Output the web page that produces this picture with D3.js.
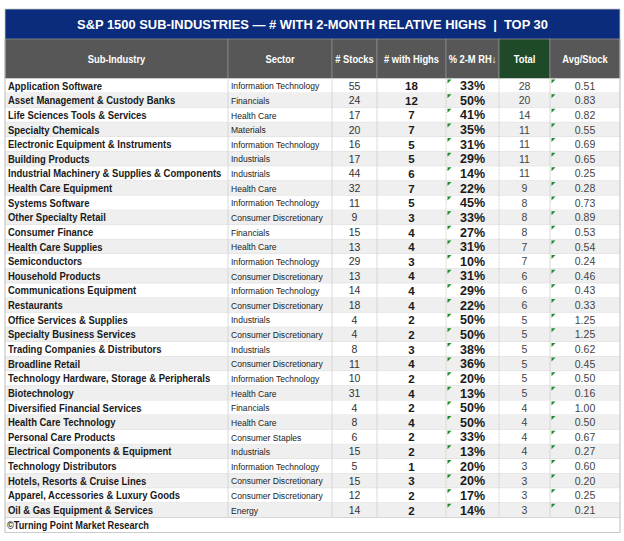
<!DOCTYPE html>
<html><head><meta charset="utf-8">
<script src="https://cdn.jsdelivr.net/npm/d3@7"></script>
<style>body{margin:0;background:#fff}svg{display:block}</style>
</head><body>
<svg id="c" width="624" height="541"></svg>
<script>
const title = "S&P 1500 SUB-INDUSTRIES — # WITH 2-MONTH RELATIVE HIGHS  |  TOP 30";
const headers = ["Sub-Industry","Sector","# Stocks","# with Highs","% 2-M RH↓","Total","Avg/Stock"];
const subIndustries = ["Application Software","Asset Management & Custody Banks","Life Sciences Tools & Services","Specialty Chemicals","Electronic Equipment & Instruments","Building Products","Industrial Machinery & Supplies & Components","Health Care Equipment","Systems Software","Other Specialty Retail","Consumer Finance","Health Care Supplies","Semiconductors","Household Products","Communications Equipment","Restaurants","Office Services & Supplies","Specialty Business Services","Trading Companies & Distributors","Broadline Retail","Technology Hardware, Storage & Peripherals","Biotechnology","Diversified Financial Services","Health Care Technology","Personal Care Products","Electrical Components & Equipment","Technology Distributors","Hotels, Resorts & Cruise Lines","Apparel, Accessories & Luxury Goods","Oil & Gas Equipment & Services"];
const sectors = ["Information Technology","Financials","Health Care","Materials","Information Technology","Industrials","Industrials","Health Care","Information Technology","Consumer Discretionary","Financials","Health Care","Information Technology","Consumer Discretionary","Information Technology","Consumer Discretionary","Industrials","Consumer Discretionary","Industrials","Consumer Discretionary","Information Technology","Health Care","Financials","Health Care","Consumer Staples","Industrials","Information Technology","Consumer Discretionary","Consumer Discretionary","Energy"];
const stocks = [55,24,17,20,16,17,44,32,11,9,15,13,29,13,14,18,4,4,8,11,10,31,4,8,6,15,5,15,12,14];
const withHighs = [18,12,7,7,5,5,6,7,5,3,4,4,3,4,4,4,2,2,3,4,2,4,2,4,2,2,1,3,2,2];
const pctRH = [33,50,41,35,31,29,14,22,45,33,27,31,10,31,29,22,50,50,38,36,20,13,50,50,33,13,20,20,17,14];
const totals = [28,20,14,11,11,11,11,9,8,8,8,7,7,6,6,6,5,5,5,5,5,5,4,4,4,4,3,3,3,3];
const avgPerStock = [0.51,0.83,0.82,0.55,0.69,0.65,0.25,0.28,0.73,0.89,0.53,0.54,0.24,0.46,0.43,0.33,1.25,1.25,0.62,0.45,0.50,0.16,1.00,0.50,0.67,0.27,0.60,0.20,0.25,0.21];
const footer = "©Turning Point Market Research";

const rows = subIndustries.map((s,i)=>({i, sub:s, sector:sectors[i], stocks:stocks[i], highs:withHighs[i], pct:pctRH[i], total:totals[i], avg:avgPerStock[i]}));

const svg = d3.select("#c");
const L = 5, R = 620;
const colEdges = [L,228,332,377,446,499,550,R];
const xCol = i => colEdges[i];
const wCol = i => colEdges[i+1]-colEdges[i];
const y = d3.scaleBand().domain(d3.range(rows.length)).range([78.5, 517.5]).paddingInner(0);
const font = "'Liberation Sans', Arial, sans-serif";

// title bar
svg.append("rect").attr("x",L).attr("y",9).attr("width",R-L).attr("height",30).attr("fill","#0b2b7d");
svg.append("text").attr("transform",`translate(${(L+R)/2},29) scale(0.95,1)`).attr("text-anchor","middle")
  .attr("font-family",font).attr("font-weight","bold").attr("font-size",13.6).attr("fill","#fff")
  .attr("xml:space","preserve").text(title);

// header
const hy=39, hh=39.5;
headers.forEach((h,i)=>{
  svg.append("rect").attr("x",xCol(i)).attr("y",hy).attr("width",wCol(i)).attr("height",hh)
    .attr("fill", i===5 ? "#1e4a29" : "#575757").attr("stroke","#8a8a8a").attr("stroke-width",0.8);
  svg.append("text").attr("transform",`translate(${xCol(i)+wCol(i)/2},${hy+hh/2+4}) scale(0.9,1)`).attr("text-anchor","middle")
    .attr("font-family",font).attr("font-weight","bold").attr("font-size",10.4).attr("fill","#fff").text(h);
});

// rows
const g = svg.append("g");
const rg = g.selectAll("g.r").data(rows).join("g").attr("class","r");
rg.append("rect").attr("x",L).attr("y",d=>y(d.i)).attr("width",R-L).attr("height",y.bandwidth())
  .attr("fill",d=>d.i%2===0?"#ffffff":"#efefef");
rg.append("line").attr("x1",L).attr("x2",R).attr("y1",d=>y(d.i)+y.bandwidth()).attr("y2",d=>y(d.i)+y.bandwidth())
  .attr("stroke","#d4d4d4").attr("stroke-width",0.8);
colEdges.forEach((cx,k)=>{
  g.append("line").attr("x1",cx).attr("x2",cx).attr("y1",y(0)).attr("y2",y(rows.length-1)+y.bandwidth())
    .attr("stroke", (k===4||k===5)?"#b8d8b0":"#d0d0d0").attr("stroke-width",0.8)
    .attr("stroke-dasharray",(k===4||k===5)?"2,1":null);
});
const cy = d => y(d.i)+y.bandwidth()/2+3.8;
rg.append("text").attr("transform",d=>`translate(8,${cy(d)}) scale(0.91,1)`).attr("font-family",font).attr("font-weight","bold")
  .attr("font-size",10.4).attr("fill","#1a1a1a").text(d=>d.sub);
rg.append("text").attr("transform",d=>`translate(231,${cy(d)-0.3}) scale(0.93,1)`).attr("font-family",font)
  .attr("font-size",9.2).attr("fill","#222").text(d=>d.sector);
const center = (col, acc, size, weight, color) => rg.append("text")
  .attr("x",xCol(col)+wCol(col)/2).attr("y",d=>cy(d)+(size>11?0.6:0)).attr("text-anchor","middle")
  .attr("font-family",font).attr("font-size",size).attr("font-weight",weight).attr("fill",color).text(acc);
center(2,d=>d.stocks,10.5,"normal","#333");
center(3,d=>d.highs,11.5,"bold","#1a1a1a");
center(4,d=>d.pct+"%",12.5,"bold","#1a1a1a");
center(5,d=>d.total,10.5,"normal","#444");
center(6,d=>d3.format(".2f")(d.avg),10.5,"normal","#444");
[4,6].forEach(col=>{
  rg.append("path").attr("d",d=>{const x0=xCol(col)+1.5,y0=y(d.i)+1;return `M${x0},${y0}L${x0+4},${y0}L${x0},${y0+4}Z`;})
    .attr("fill","#1f8a2a");
});

// footer
const fy = y(rows.length-1)+y.bandwidth();
svg.append("rect").attr("x",L).attr("y",fy).attr("width",R-L).attr("height",15).attr("fill","#fff")
  .attr("stroke","#d0d0d0").attr("stroke-width",0.8);
svg.append("text").attr("transform",`translate(7,${fy+11}) scale(0.92,1)`).attr("font-family",font).attr("font-weight","bold")
  .attr("font-size",10).attr("fill","#1a1a1a").text(footer);
svg.append("rect").attr("x",L).attr("y",9).attr("width",R-L).attr("height",fy+15-9).attr("fill","none")
  .attr("stroke","#c8c8c8").attr("stroke-width",0.8);
</script>
</body></html>
